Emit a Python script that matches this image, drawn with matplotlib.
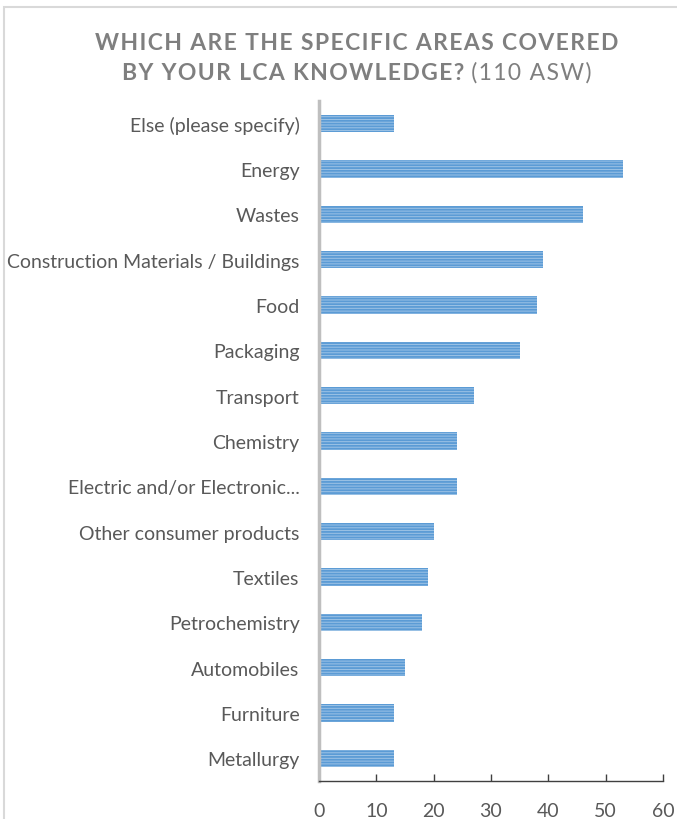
import matplotlib
matplotlib.use("Agg")
import matplotlib.pyplot as plt
from matplotlib.patches import Rectangle

# =====================================================
# DATA
# =====================================================
categories = [
    "Else (please specify)",
    "Energy",
    "Wastes",
    "Construction Materials / Buildings",
    "Food",
    "Packaging",
    "Transport",
    "Chemistry",
    "Electric and/or Electronic...",
    "Other consumer products",
    "Textiles",
    "Petrochemistry",
    "Automobiles",
    "Furniture",
    "Metallurgy",
]
answers = [13, 53, 46, 39, 38, 35, 27, 24, 24, 20, 19, 18, 15, 13, 13]
x_ticks = [0, 10, 20, 30, 40, 50, 60]

title_line1 = "WHICH ARE THE SPECIFIC AREAS COVERED"
title_line2_bold = "BY YOUR LCA KNOWLEDGE?"
title_line2_rest = " (110 ASW)"

# =====================================================
# STYLE
# =====================================================
FONT = ["Lato", "DejaVu Sans"]
GREY_TITLE = "#7F7F7F"
GREY_TEXT = "#595959"
BAR_FACE = "#9DC3E6"
BAR_STRIPE = "#5B9BD5"
HAIR = "\u200a"

plt.rcParams["font.family"] = FONT
plt.rcParams["hatch.linewidth"] = 1.3


def spaced(s):
    # mimic the letter spacing of the original title
    return HAIR.join(s)


fig = plt.figure(figsize=(6.77, 8.2), dpi=100)

# light frame of the chart area (left and top visible)
fig.patches.append(Rectangle((4 / 677, -0.1), 1.2, (812 / 820) + 0.1,
                             transform=fig.transFigure, fill=False,
                             edgecolor="#D9D9D9", linewidth=1.5))

ax = fig.add_axes([319 / 677, 38 / 820, 344 / 677, 680 / 820])

y_pos = list(range(len(categories)))
ax.barh(y_pos, answers, height=0.38, color=BAR_FACE,
        edgecolor=BAR_STRIPE, linewidth=0, hatch="------")

ax.set_ylim(len(categories) - 0.5, -0.5)
ax.set_xlim(0, 60)
ax.set_xticks(x_ticks)
ax.set_yticks(y_pos)
ax.set_yticklabels(categories)

ax.tick_params(axis="y", length=0, pad=14, labelsize=14, labelcolor=GREY_TEXT)
ax.tick_params(axis="x", direction="in", length=5, width=1, color="#404040",
               pad=15, labelsize=14, labelcolor=GREY_TEXT)

for s in ["top", "right"]:
    ax.spines[s].set_visible(False)
ax.spines["left"].set_color("#BFBFBF")
ax.spines["left"].set_linewidth(2.5)
ax.spines["bottom"].set_color("#404040")
ax.spines["bottom"].set_linewidth(1)

# =====================================================
# TITLE
# =====================================================
cx = 357 / 677
fig.text(cx, 1 - 43 / 820, spaced(title_line1), ha="center", va="center",
         fontsize=16.5, fontweight="bold", color=GREY_TITLE)

renderer = fig.canvas.get_renderer()
t_bold = fig.text(0, 1 - 73 / 820, spaced(title_line2_bold), ha="left",
                  va="center", fontsize=16.5, fontweight="bold",
                  color=GREY_TITLE)
t_rest = fig.text(0, 1 - 73 / 820, spaced(title_line2_rest), ha="left",
                  va="center", fontsize=16.5, color=GREY_TITLE)
w_bold = t_bold.get_window_extent(renderer).width / fig.bbox.width
w_rest = t_rest.get_window_extent(renderer).width / fig.bbox.width
x0 = cx - (w_bold + w_rest) / 2
t_bold.set_x(x0)
t_rest.set_x(x0 + w_bold)

fig.savefig("out.png", dpi=100)
